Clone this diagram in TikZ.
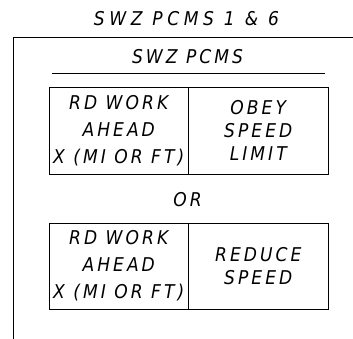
\documentclass[tikz,border=0pt]{standalone}
\usepackage{fontspec}
\setmainfont{DejaVu Sans Condensed}[LetterSpace=16]
\tikzset{
  signtext/.style={font=\fontsize{19}{26}\selectfont\itshape},
  titletext/.style={font=\fontsize{19}{26}\selectfont\itshape\addfontfeature{LetterSpace=24}},
  worklines/.style={font=\fontsize{19}{27}\selectfont\itshape},
  speedlines/.style={font=\fontsize{19}{23}\selectfont\itshape},
  cell/.style={draw, line width=0.8pt, minimum width=139.5pt, inner sep=0pt, align=center}
}
\begin{document}
\begin{tikzpicture}[x=1pt, y=-1pt]
  \useasboundingbox (0,0) rectangle (353,339);

  % Define nodes
  \node[titletext, anchor=base] (title) at (186.5,26) {SWZ PCMS 1 \& 6};
  \node[signtext, anchor=base] (head) at (187.5,64) {SWZ PCMS};
  \node[cell, worklines, minimum height=87pt] (work1) at (118.75,130.5) {RD WORK\\AHEAD\\X (MI OR FT)};
  \node[cell, speedlines, minimum height=87pt] (obey) at (258.25,130.5) {OBEY\\SPEED\\LIMIT};
  \node[signtext, anchor=base] (or) at (187.5,206) {OR};
  \node[cell, worklines, minimum height=86pt] (work2) at (118.75,266) {RD WORK\\AHEAD\\X (MI OR FT)};
  \node[cell, speedlines, minimum height=86pt] (reduce) at (258.25,266) {REDUCE\\SPEED};

  % Draw frame
  \draw[line width=0.8pt] (13,339) -- (13,37) -- (353,37);
  \draw[line width=0.8pt] (52,73) -- (325,73);
\end{tikzpicture}
\end{document}
